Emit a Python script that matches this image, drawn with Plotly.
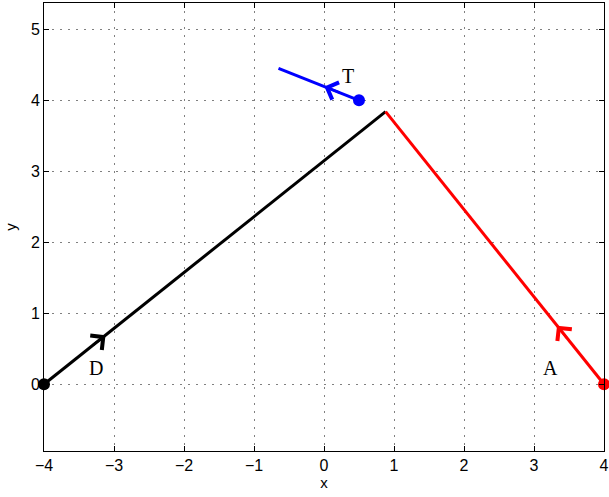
import math
import plotly.graph_objects as go

# Path data
d_x = [-4.0, 0.88]
d_y = [0.0, 3.84]
a_x = [4.0, 0.88]
a_y = [0.0, 3.84]
t_x = [0.5, -0.65]
t_y = [4.0, 4.45]

# arrow fraction along each path
d_frac = 0.18
a_frac = 0.215
t_frac = 0.43

labels = ["D", "A", "T"]
label_x = [-3.26, 3.23, 0.34]
label_y = [0.23, 0.23, 4.34]

x_ticks = [-4, -3, -2, -1, 0, 1, 2, 3, 4]
y_ticks = [0, 1, 2, 3, 4, 5]
x_range = [-4, 4]
y_range = [-0.94, 5.37]

W, H = 609, 497
ml, mr, mt, mb = 44, 5, 3, 46
px_per_x = (W - ml - mr) / (x_range[1] - x_range[0])
px_per_y = (H - mt - mb) / (y_range[1] - y_range[0])

fig = go.Figure()

paths = [(d_x, d_y, "black", d_frac), (a_x, a_y, "red", a_frac), (t_x, t_y, "blue", t_frac)]
for xs, ys, col, fr in paths:
    fig.add_trace(go.Scatter(x=xs, y=ys, mode="lines", line=dict(color=col, width=3),
                             showlegend=False, cliponaxis=False, hoverinfo="skip"))
    fig.add_trace(go.Scatter(x=[xs[0]], y=[ys[0]], mode="markers",
                             marker=dict(color=col, size=12), showlegend=False,
                             cliponaxis=False, hoverinfo="skip"))
    tx = xs[0] + fr * (xs[1] - xs[0])
    ty = ys[0] + fr * (ys[1] - ys[0])
    dxp = (xs[1] - xs[0]) * px_per_x
    dyp = -(ys[1] - ys[0]) * px_per_y
    n = math.hypot(dxp, dyp)
    fig.add_annotation(x=tx, y=ty, ax=-dxp / n * 18, ay=-dyp / n * 18, xref="x", yref="y",
                       showarrow=True, arrowhead=4, arrowsize=1.55, arrowwidth=2.3,
                       arrowcolor=col, text="")

for lab, lx, ly in zip(labels, label_x, label_y):
    fig.add_annotation(x=lx, y=ly, text=lab, showarrow=False,
                       font=dict(family="Liberation Serif", size=20, color="black"))

axis_common = dict(showline=True, linecolor="black", linewidth=1, mirror="ticks",
                   ticks="inside", ticklen=5, tickcolor="black", automargin=False,
                   showgrid=True, gridcolor="#808080", griddash="2px,6px", gridwidth=1,
                   zeroline=False, tickfont=dict(family="Arial", size=16, color="black"))

fig.update_xaxes(range=x_range, tickvals=x_ticks, ticktext=[str(v).replace("-", "\u2212") for v in x_ticks],
                 title=dict(text="x", font=dict(family="Arial", size=15, color="black"), standoff=4),
                 **axis_common)
fig.update_yaxes(range=y_range, tickvals=y_ticks, ticktext=[str(v) for v in y_ticks],
                 title=dict(text="y", font=dict(family="Arial", size=15, color="black"), standoff=10),
                 **axis_common)

fig.update_layout(width=W, height=H, margin=dict(l=ml, r=mr, t=mt, b=mb, autoexpand=False),
                  plot_bgcolor="white", paper_bgcolor="white")

fig.write_html("out.html", config={"displayModeBar": False},
               post_script="document.body.style.margin='0';document.body.style.overflow='hidden';")
